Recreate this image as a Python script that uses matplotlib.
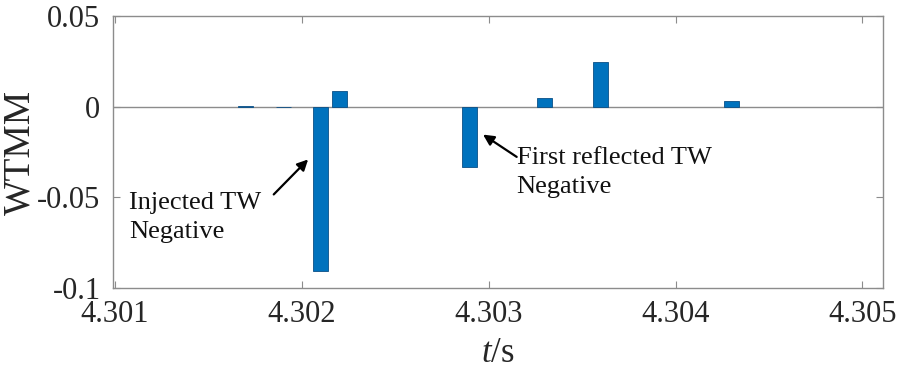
import matplotlib
matplotlib.use("Agg")
import matplotlib.pyplot as plt

# Data
times = [4.3017, 4.3019, 4.3021, 4.3022, 4.3029, 4.3033, 4.3036, 4.3043]
wtmm = [0.0004, -0.0004, -0.0905, 0.0088, -0.033, 0.0048, 0.0249, 0.0029]
xticks = [4.301, 4.302, 4.303, 4.304, 4.305]
xtick_labels = ["4.301", "4.302", "4.303", "4.304", "4.305"]
yticks = [-0.1, -0.05, 0, 0.05]
ytick_labels = ["-0.1", "-0.05", "0", "0.05"]
annot1 = "Injected TW\nNegative"
annot2 = "First reflected TW\nNegative"

FAM = "Liberation Serif"
plt.rcParams["font.family"] = "serif"
plt.rcParams["font.serif"] = [FAM, "DejaVu Serif"]
plt.rcParams["mathtext.fontset"] = "custom"
plt.rcParams["mathtext.it"] = "Liberation Serif:italic"
plt.rcParams["mathtext.rm"] = "Liberation Serif"
plt.rcParams["axes.unicode_minus"] = False

fig = plt.figure(figsize=(9, 3.7), dpi=100)
ax = fig.add_axes([113 / 900, 1 - 288 / 370, 770 / 900, 272 / 370])

ax.bar(times, wtmm, width=0.00008, color="#0072BD", edgecolor="#0b4f86", linewidth=0.6, zorder=3)
ax.axhline(0, color="#8c8c8c", linewidth=1.0, zorder=2)

ax.set_xlim(4.30099, 4.30511)
ax.set_ylim(-0.1, 0.05)
ax.set_xticks(xticks)
ax.set_xticklabels(xtick_labels, fontfamily=FAM)
ax.set_yticks(yticks)
ax.set_yticklabels(ytick_labels, fontfamily=FAM)

for s in ax.spines.values():
    s.set_color("#8c8c8c")
    s.set_linewidth(1.0)
ax.tick_params(direction="in", length=5, width=0.8, color="#8c8c8c",
               top=True, right=True, labelsize=22, labelcolor="#262626")
ax.tick_params(axis="x", pad=9)
ax.tick_params(axis="y", pad=9)

ax.set_ylabel("WTMM", fontsize=27, color="#262626", fontfamily=FAM)
ax.yaxis.set_label_coords(-0.098, 0.5)
ax.set_xlabel("$t$/s", fontsize=25, color="#262626")
ax.xaxis.set_label_coords(0.5, -0.18)

txt_kw = dict(fontsize=19, color="#111111", ha="left", va="top",
              linespacing=1.4, fontfamily=FAM)
arrow_kw = dict(arrowstyle="-|>", color="black", lw=1.6, mutation_scale=16,
                shrinkA=0, shrinkB=0)

ax.text(4.301075, -0.0470, annot1, **txt_kw)
ax.annotate("", xy=(4.302034, -0.0291), xytext=(4.30185, -0.0484), arrowprops=arrow_kw)

ax.text(4.30315, -0.0223, annot2, **txt_kw)
ax.annotate("", xy=(4.30297, -0.0154), xytext=(4.30315, -0.0277), arrowprops=arrow_kw)

fig.savefig("out.png", dpi=100)
